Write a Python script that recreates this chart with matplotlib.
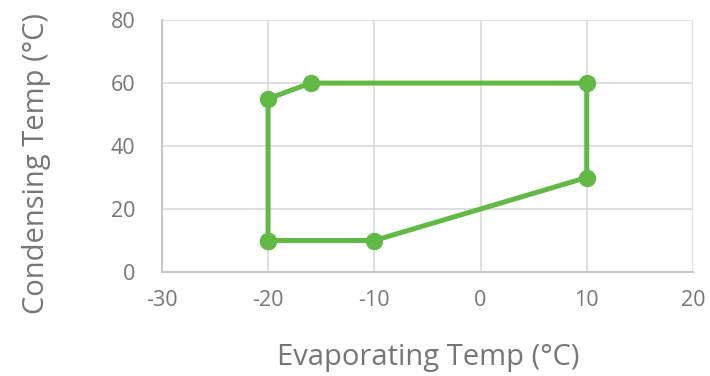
import matplotlib
matplotlib.use("Agg")
import matplotlib.pyplot as plt

evap = [-20, -10, 10, 10, -16, -20, -20]
cond = [10, 10, 30, 60, 60, 55, 10]
x_ticks = [-30, -20, -10, 0, 10, 20]
y_ticks = [0, 20, 40, 60, 80]

plt.rcParams['font.family'] = ['Open Sans', 'DejaVu Sans']
plt.rcParams['axes.unicode_minus'] = False
text_color = '#767676'
green = '#62b946'

fig = plt.figure(figsize=(7.1, 3.76), dpi=100)
ax = fig.add_axes([0.228, 0.2766, 0.748, 0.670])
ax.plot(evap, cond, color=green, lw=3.6, marker='o', markersize=11.5, zorder=3,
        solid_joinstyle='round')
ax.set_xlim(-30, 20)
ax.set_ylim(0, 80)
ax.set_xticks(x_ticks)
ax.set_yticks(y_ticks)
ax.set_xticklabels([str(t) for t in x_ticks])
ax.set_yticklabels([str(t) for t in y_ticks])
ax.grid(True, color='#d9d9d9', lw=1.2)
ax.set_axisbelow(True)
for s in ['top', 'right']:
    ax.spines[s].set_visible(False)
for s in ['left', 'bottom']:
    ax.spines[s].set_color('#c8c8c8')
    ax.spines[s].set_linewidth(1.5)
ax.tick_params(axis='x', length=0, labelsize=15.5, colors=text_color, pad=13)
ax.tick_params(axis='y', length=0, labelsize=15.5, colors=text_color, pad=19)
fig.text(428 / 710, 1 - 357 / 376, 'Evaporating Temp (°C)', fontsize=21,
         color=text_color, ha='center', va='center')
fig.text(37 / 710, 1 - 163 / 376, 'Condensing Temp (°C)', fontsize=21,
         color=text_color, ha='center', va='center', rotation=90)
fig.savefig('out.png', dpi=100)
